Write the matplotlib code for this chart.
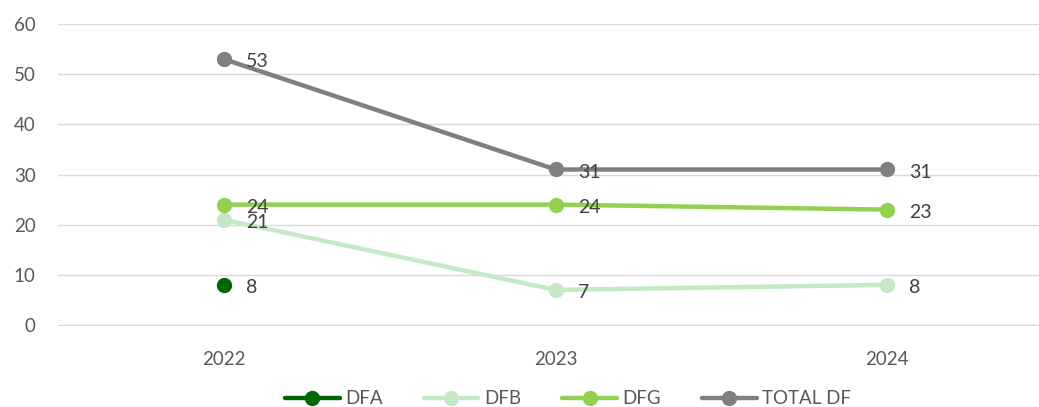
import numpy as np
import matplotlib.pyplot as plt

plt.rcParams['font.family'] = ['Lato', 'DejaVu Sans']

years = ['2022', '2023', '2024']
dfa = [8, np.nan, np.nan]
dfb = [21, 7, 8]
dfg = [24, 24, 23]
total = [53, 31, 31]

series = [
    ('DFA', dfa, '#006600'),
    ('DFB', dfb, '#c4e9c4'),
    ('DFG', dfg, '#92d050'),
    ('TOTAL DF', total, '#808080'),
]

fig = plt.figure(figsize=(10.39, 4.07), dpi=100)
ax = fig.add_axes([58 / 1039, 1 - 325 / 407, 1 - 58 / 1039, 301 / 407])

x = np.arange(len(years))
for name, vals, col in series:
    ax.plot(x, vals, color=col, lw=3.2, marker='o', ms=10, label=name,
            solid_capstyle='round', zorder=3)
    for xi, v in zip(x, vals):
        if not np.isnan(v):
            ax.annotate(str(int(v)), (xi, v), xytext=(16, -2), textcoords='offset points',
                        va='center', ha='left', fontsize=14, color='#404040', zorder=4)

ax.set_ylim(0, 60)
ax.set_yticks(range(0, 61, 10))
ax.set_xlim(-0.5, 2.5 - 14 / 331.5)
ax.set_xticks(x)
ax.set_xticklabels(years)
ax.grid(axis='y', color='#d9d9d9', lw=1)
ax.set_axisbelow(True)
for s in ax.spines.values():
    s.set_visible(False)
ax.spines['bottom'].set_visible(True)
ax.spines['bottom'].set_color('#d9d9d9')
ax.tick_params(length=0, labelsize=13.5, colors='#595959', pad=16)
ax.tick_params(axis='x', pad=19)

ax.legend(loc='center', bbox_to_anchor=(0.5 - 58 / 1039 / 2 + 0.048, -0.245), ncol=4, frameon=False,
          fontsize=13.5, labelcolor='#595959', handlelength=2.9, columnspacing=2.2, handletextpad=0.3)

fig.savefig('out.png', dpi=100)
